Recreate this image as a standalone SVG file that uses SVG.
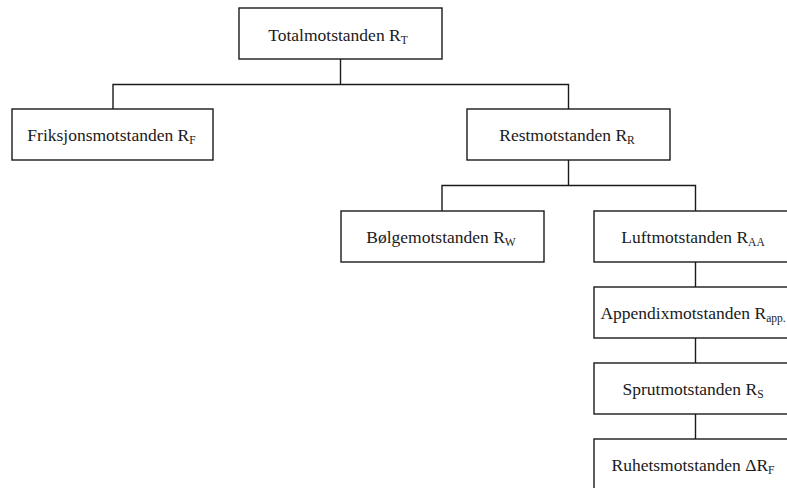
<svg xmlns="http://www.w3.org/2000/svg" width="787" height="488" viewBox="0 0 787 488">
<style>
.box{fill:#fff;stroke:#1a1a1a;stroke-width:1.4}
.ln{fill:none;stroke:#1a1a1a;stroke-width:1.4}
text{font-family:"Liberation Serif","Times New Roman",serif;font-size:17.5px;fill:#1a1a1a;text-anchor:middle}
.sub{font-size:11.5px}
</style>
<rect width="787" height="488" fill="#fff"/>
<g id="connectors">
<path class="ln" d="M340.5 59V84.5M113 109V84.5H568.5V109"/>
<path class="ln" d="M568.5 160V185.5M442 211V185.5H695.5V211"/>
<path class="ln" d="M695.5 262V287M695.5 338V363M695.5 414V439"/>
</g>
<g id="n_total"><rect class="box" x="239" y="8" width="203" height="51"/><text x="338" y="40.5">Totalmotstanden R<tspan class="sub" dy="3">T</tspan></text></g>
<g id="n_friksjon"><rect class="box" x="12" y="109" width="201" height="51"/><text x="111.5" y="141">Friksjonsmotstanden R<tspan class="sub" dy="3">F</tspan></text></g>
<g id="n_rest"><rect class="box" x="467" y="109" width="203" height="51"/><text x="567" y="141">Restmotstanden R<tspan class="sub" dy="3">R</tspan></text></g>
<g id="n_bolge"><rect class="box" x="341" y="211" width="203" height="51"/><text x="441" y="243">Bølgemotstanden R<tspan class="sub" dy="3">W</tspan></text></g>
<g id="n_luft"><rect class="box" x="594" y="211" width="203" height="51"/><text x="693" y="243">Luftmotstanden R<tspan class="sub" dy="3">AA</tspan></text></g>
<g id="n_appendix"><rect class="box" x="594" y="287" width="203" height="51"/><text x="693" y="319">Appendixmotstanden R<tspan class="sub" dy="3">app.</tspan></text></g>
<g id="n_sprut"><rect class="box" x="594" y="363" width="203" height="51"/><text x="693" y="395">Sprutmotstanden R<tspan class="sub" dy="3">S</tspan></text></g>
<g id="n_ruhet"><rect class="box" x="594" y="439" width="203" height="60"/><text x="693" y="471">Ruhetsmotstanden ΔR<tspan class="sub" dy="3">F</tspan></text></g>
</svg>
